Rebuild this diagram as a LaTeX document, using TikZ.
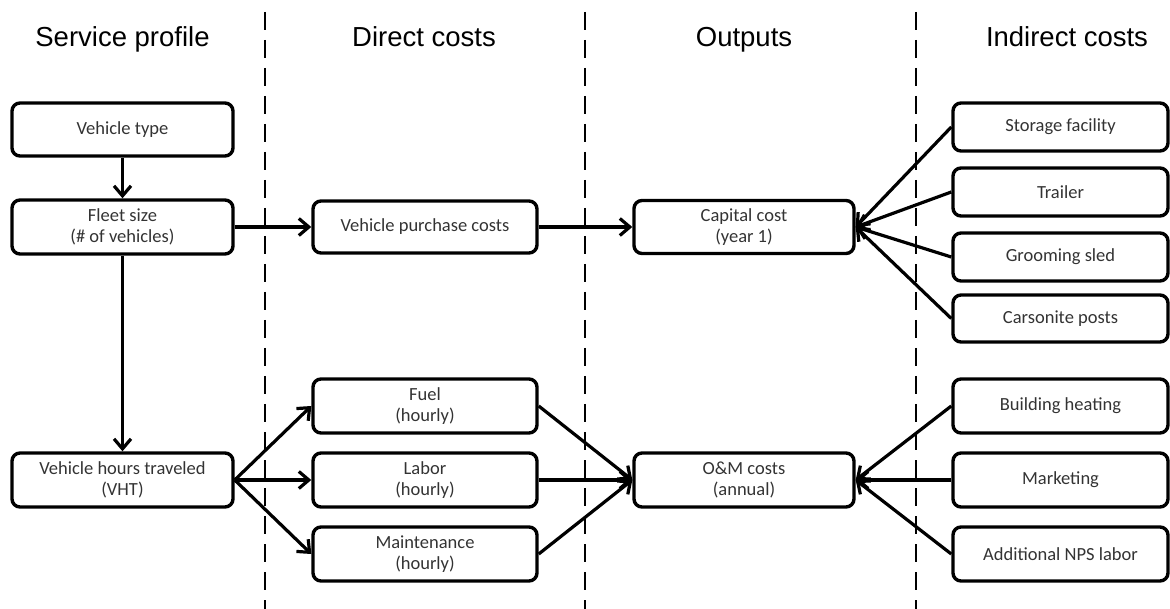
\documentclass[tikz,border=0pt]{standalone}
\usepackage{fontspec}
\setmainfont{Carlito}
\newfontfamily\headfont{Liberation Sans}
\usetikzlibrary{arrows.meta}
\begin{document}
\begin{tikzpicture}[x=1pt,y=-1pt,
  box/.style={draw=black, line width=3.4pt, rounded corners=8pt, align=center, inner sep=0pt,
    text=black!80, font=\fontsize{18.5}{21.6}\selectfont},
  c1/.style={box, minimum width=221pt},
  c2/.style={box, minimum width=224pt},
  c3/.style={box, minimum width=220pt},
  c4/.style={box, minimum width=215pt},
  hd/.style={font=\headfont\fontsize{27.5}{30}\selectfont, anchor=base, inner sep=0pt},
  arr/.style={line width=3.2pt, -{Straight Barb[length=10pt,width=17pt,line width=3.2pt]}},
  sep/.style={line width=2.4pt, dash pattern=on 18pt off 10pt}
]
\useasboundingbox (0,0) rectangle (1170,609);
% headers
\node[hd] (h1) at (122.5,47) {Service profile};
\node[hd] (h2) at (424,47) {Direct costs};
\node[hd] (h3) at (744,47) {Outputs};
\node[hd] (h4) at (1067,47) {Indirect costs};
% separators
\coordinate (s1a) at (265,12); \coordinate (s1b) at (265,609);
\coordinate (s2a) at (585,12); \coordinate (s2b) at (585,609);
\coordinate (s3a) at (916,12); \coordinate (s3b) at (916,609);
\draw[sep] (s1a) -- (s1b);
\draw[sep] (s2a) -- (s2b);
\draw[sep] (s3a) -- (s3b);
% column 1
\node[c1, minimum height=53pt] (vt) at (122.5,129.5) {Vehicle type};
\node[c1, minimum height=54pt] (fs) at (122.5,227) {Fleet size\\(\# of vehicles)};
\node[c1, minimum height=54pt] (vht) at (122.5,480) {Vehicle hours traveled\\(VHT)};
% column 2
\node[c2, minimum height=52pt] (vpc) at (425,227) {Vehicle purchase costs};
\node[c2, minimum height=54pt] (fuel) at (425,406) {Fuel\\(hourly)};
\node[c2, minimum height=54pt] (lab) at (425,480) {Labor\\(hourly)};
\node[c2, minimum height=54pt] (mnt) at (425,554) {Maintenance\\(hourly)};
% column 3
\node[c3, minimum height=53pt] (cap) at (744,227) {Capital cost\\(year 1)};
\node[c3, minimum height=54pt] (om) at (744,480) {O\&M costs\\(annual)};
% column 4
\node[c4, minimum height=48pt] (sto) at (1060.5,127) {Storage facility};
\node[c4, minimum height=48pt] (tra) at (1060.5,192) {Trailer};
\node[c4, minimum height=48pt] (gro) at (1060.5,257) {Grooming sled};
\node[c4, minimum height=47pt] (car) at (1060.5,318.5) {Carsonite posts};
\node[c4, minimum height=54pt] (bld) at (1060.5,406) {Building heating};
\node[c4, minimum height=54pt] (mkt) at (1060.5,480) {Marketing};
\node[c4, minimum height=54pt] (nps) at (1060.5,554) {Additional NPS labor};
% connectors
\draw[arr] (vt) -- (fs);
\draw[arr] (fs) -- (vht);
\draw[arr] (fs) -- (vpc);
\draw[arr] (vpc) -- (cap);
\draw[arr] (vht.east) -- (fuel.west);
\draw[arr] (vht.east) -- (lab.west);
\draw[arr] (vht.east) -- (mnt.west);
\draw[arr] (fuel.east) -- (om.west);
\draw[arr] (lab.east) -- (om.west);
\draw[arr] (mnt.east) -- (om.west);
\draw[arr] (sto.west) -- (cap.east);
\draw[arr] (tra.west) -- (cap.east);
\draw[arr] (gro.west) -- (cap.east);
\draw[arr] (car.west) -- (cap.east);
\draw[arr] (bld.west) -- (om.east);
\draw[arr] (mkt.west) -- (om.east);
\draw[arr] (nps.west) -- (om.east);
\end{tikzpicture}
\end{document}
